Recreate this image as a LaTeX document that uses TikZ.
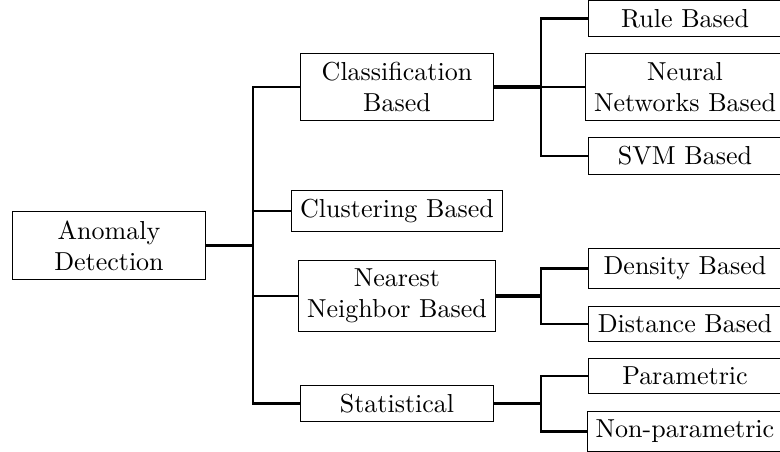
\documentclass[tikz,border=0pt]{standalone}
\begin{document}
\begin{tikzpicture}[x=0.3846pt,y=-0.3846pt,
  box/.style={draw,line width=0.4pt,minimum width=2.6cm,align=center,inner sep=3.33pt},
  conn/.style={line width=0.8pt},
  parentline/.style={line width=1.2pt}]
\useasboundingbox (0,0) rectangle (780,452);
% nodes
\node[box] (ad) at (109,245.5) {Anomaly\\Detection};
\node[box] (cb) at (397,87) {Classification\\Based};
\node[box] (cl) at (397,211) {Clustering Based};
\node[box] (nn) at (397,296) {Nearest\\Neighbor Based};
\node[box] (st) at (397,403.5) {Statistical};
\node[box] (rb) at (685,18.5) {Rule Based};
\node[box] (nw) at (685,87) {Neural\\Networks Based};
\node[box] (sv) at (685,156) {SVM Based};
\node[box] (de) at (685,268.5) {Density Based};
\node[box] (di) at (685,324) {Distance Based};
\node[box] (pa) at (685,376) {Parametric};
\node[box] (np) at (685,431.5) {Non-parametric};
% junctions
\coordinate (j0) at (253,245.5);
\coordinate (j1) at (541,87);
\coordinate (j2) at (541,296);
\coordinate (j3) at (541,403.5);
% root
\draw[parentline] (ad.east) -- (j0);
\draw[conn] (cb.west) -| (j0 |- st.west) -- (st.west);
\draw[conn] (j0 |- cl.west) -- (cl.west);
\draw[conn] (j0 |- nn.west) -- (nn.west);
% classification
\draw[parentline] (cb.east) -- (j1);
\draw[conn] (rb.west) -| (j1 |- sv.west) -- (sv.west);
\draw[conn] (j1) -- (nw.west);
% nearest neighbor
\draw[parentline] (nn.east) -- (j2);
\draw[conn] (de.west) -| (j2 |- di.west) -- (di.west);
% statistical
\draw[parentline] (st.east) -- (j3);
\draw[conn] (pa.west) -| (j3 |- np.west) -- (np.west);
\end{tikzpicture}
\end{document}
